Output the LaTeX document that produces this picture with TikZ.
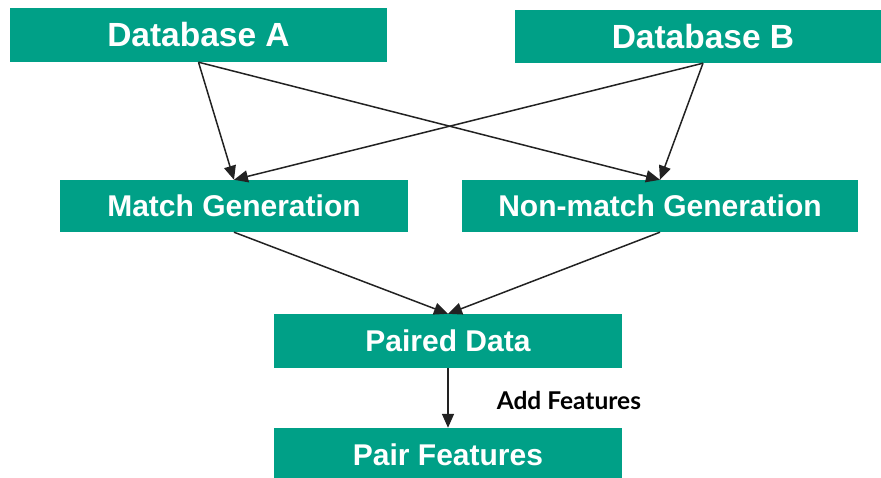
\documentclass[tikz,border=0pt]{standalone}
\usepackage{fontspec}
\setmainfont{Liberation Sans}
\newfontfamily\latofont{Lato}
\usetikzlibrary{arrows.meta}
\definecolor{boxgreen}{RGB}{0,160,135}
\definecolor{arrowgray}{RGB}{34,34,34}

\begin{document}
\begin{tikzpicture}[x=1pt,y=-1pt]
        \tikzstyle{every node}=[fill=boxgreen,text=white,inner sep=0pt,font=\fontsize{30}{32}\selectfont\bfseries]
        \tikzstyle{dbnode}=[font=\fontsize{33.5}{36}\selectfont\bfseries]
        \tikzstyle{flow}=[draw=arrowgray,line width=1.5pt,-{Triangle[length=14pt,width=12pt]}]
        \tikzstyle{annot}=[fill=none,text=black,font=\latofont\fontsize{24.5}{26}\selectfont\bfseries]
        \clip (0,0) rectangle (881,478);
        \node (dbA) [dbnode, minimum width=377pt, minimum height=54pt] at (198.5,35) {Database A};
        \node (dbB) [dbnode, minimum width=376pt, minimum height=53pt] at (703,36.5) {Database B};
        \node (match) [minimum width=348pt, minimum height=52pt] at (234,206) {Match Generation};
        \node (nonmatch) [minimum width=396pt, minimum height=52pt] at (660,206) {Non-match Generation};
        \node (paired) [minimum width=348pt, minimum height=54pt] at (448,341) {Paired Data};
        \node (pairfeat) [minimum width=348pt, minimum height=54pt] at (448,455) {Pair Features};
        \draw[flow] (dbA.south) -- (match.north);
        \draw[flow] (dbA.south) -- (nonmatch.north);
        \draw[flow] (dbB.south) -- (match.north);
        \draw[flow] (dbB.south) -- (nonmatch.north);
        \draw[flow] (match.south) -- (paired.north);
        \draw[flow] (nonmatch.south) -- (paired.north);
        \draw[flow] (paired.south) -- node (addlbl) [annot, midway, right=48pt, yshift=-2pt] {Add Features} (pairfeat.north);
    \end{tikzpicture}
\end{document}
